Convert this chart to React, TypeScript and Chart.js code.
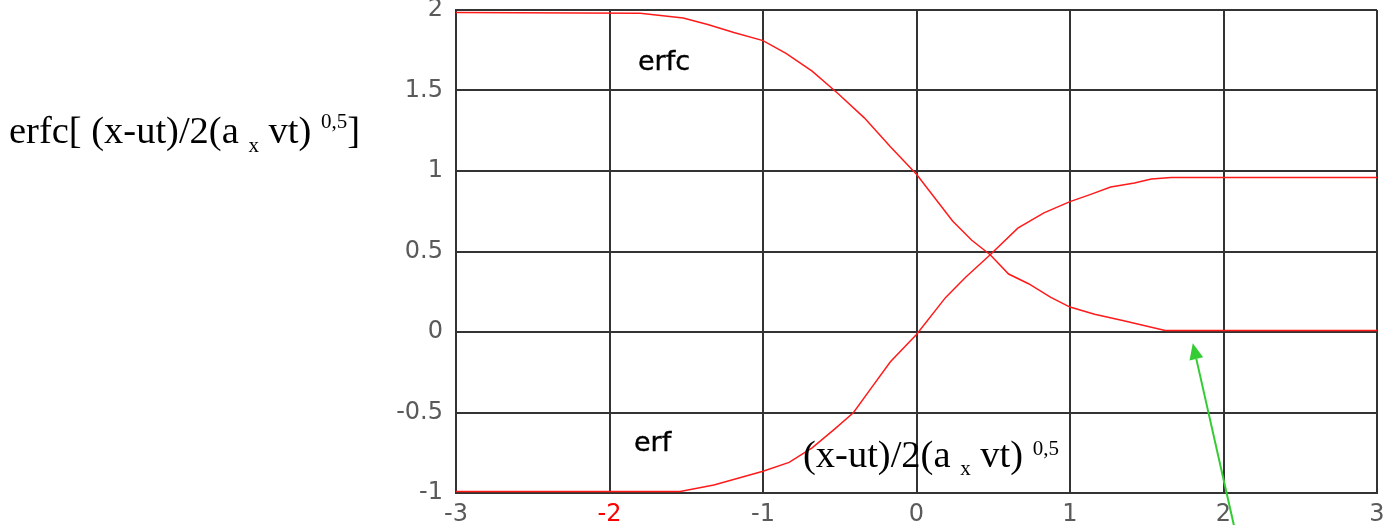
import React, { useEffect, useRef } from "react";
import { Chart, registerables } from "chart.js";

Chart.register(...registerables);

// Abscissa (x-ut)/2(a_x vt)^0.5 and the sampled curve values
const erfcX = [-3, -1.8, -1.52, -1.36, -1.19, -1.0, -0.85, -0.68, -0.51, -0.34, -0.17, 0, 0.235, 0.36, 0.48, 0.6, 0.73, 0.875, 1.0, 1.16, 1.35, 1.62, 3];
const erfcY = [1.985, 1.98, 1.95, 1.91, 1.86, 1.81, 1.73, 1.62, 1.48, 1.33, 1.15, 0.98, 0.69, 0.57, 0.48, 0.36, 0.3, 0.215, 0.155, 0.11, 0.07, 0.01, 0.01];

const erfX = [-3, -1.54, -1.32, -1.0, -0.83, -0.68, -0.53, -0.41, -0.3, -0.17, 0, 0.19, 0.32, 0.48, 0.66, 0.83, 1.0, 1.135, 1.265, 1.42, 1.53, 1.66, 3];
const erfY = [-0.99, -0.99, -0.95, -0.865, -0.81, -0.72, -0.6, -0.5, -0.355, -0.185, -0.015, 0.215, 0.34, 0.48, 0.645, 0.74, 0.81, 0.855, 0.9, 0.925, 0.95, 0.96, 0.96];

const xTickValues = [-3, -2, -1, 0, 1, 2, 3];
const xTickLabels = ["-3", "-2", "-1", "0", "1", "2", "3"];
const yTickValues = [-1, -0.5, 0, 0.5, 1, 1.5, 2];
const yTickLabels = ["-1", "-0.5", "0", "0.5", "1", "1.5", "2"];
const highlightedXTick = -2;

// Green pointer arrow, in data units (tail below the axis, head near y = 0)
const arrowTail = { x: 2.07, y: -1.21 };
const arrowHead = { x: 1.8, y: -0.07 };

const GRID = "#333333";
const TICK_GRAY = "#5a5a5a";
const TICK_FONT = { family: '"DejaVu Sans", Verdana, sans-serif', size: 24 };

const labelFor = (values: number[], labels: string[], v: number) => {
  const i = values.findIndex((t) => Math.abs(t - v) < 1e-9);
  return i >= 0 ? labels[i] : "";
};

const arrowPlugin = {
  id: "greenArrow",
  afterDraw(chart: any) {
    const { ctx, scales } = chart;
    const x0 = scales.x.getPixelForValue(arrowTail.x);
    const y0 = scales.y.getPixelForValue(arrowTail.y);
    const x1 = scales.x.getPixelForValue(arrowHead.x);
    const y1 = scales.y.getPixelForValue(arrowHead.y);
    const ang = Math.atan2(y1 - y0, x1 - x0);
    const headLen = 16;
    const headHalf = 7;
    const bx = x1 - headLen * Math.cos(ang);
    const by = y1 - headLen * Math.sin(ang);
    ctx.save();
    ctx.strokeStyle = "#33cc33";
    ctx.fillStyle = "#33cc33";
    ctx.lineWidth = 2;
    ctx.beginPath();
    ctx.moveTo(x0, y0);
    ctx.lineTo(bx, by);
    ctx.stroke();
    ctx.beginPath();
    ctx.moveTo(x1, y1);
    ctx.lineTo(bx + headHalf * Math.sin(ang), by - headHalf * Math.cos(ang));
    ctx.lineTo(bx - headHalf * Math.sin(ang), by + headHalf * Math.cos(ang));
    ctx.closePath();
    ctx.fill();
    ctx.restore();
  },
};

const serifText: React.CSSProperties = {
  position: "absolute",
  fontFamily: '"Liberation Serif", "Times New Roman", serif',
  fontSize: 38.5,
  lineHeight: "38.5px",
  whiteSpace: "nowrap",
  color: "#000",
};

const sansLabel: React.CSSProperties = {
  position: "absolute",
  fontFamily: '"DejaVu Sans", Verdana, sans-serif',
  fontSize: 27,
  lineHeight: "27px",
  whiteSpace: "nowrap",
  color: "#000",
  WebkitTextStroke: "0.4px #000",
};

const small = (top: number): React.CSSProperties => ({
  fontSize: 21,
  lineHeight: 0,
  position: "relative",
  top,
});

export default function App() {
  const canvasRef = useRef<HTMLCanvasElement | null>(null);

  useEffect(() => {
    if (!canvasRef.current) return;
    const chart = new Chart(canvasRef.current, {
      type: "line",
      data: {
        datasets: [
          {
            label: "erfc",
            data: erfcX.map((x, i) => ({ x, y: erfcY[i] })),
            borderColor: "#ff1a1a",
            borderWidth: 1.5,
            pointRadius: 0,
            tension: 0,
          },
          {
            label: "erf",
            data: erfX.map((x, i) => ({ x, y: erfY[i] })),
            borderColor: "#ff1a1a",
            borderWidth: 1.5,
            pointRadius: 0,
            tension: 0,
          },
        ],
      },
      options: {
        responsive: false,
        animation: false,
        layout: { padding: { left: 0, top: 10, right: 12, bottom: 0 } },
        plugins: { legend: { display: false }, tooltip: { enabled: false } },
        scales: {
          x: {
            type: "linear",
            min: -3,
            max: 3,
            afterBuildTicks: (s: any) => {
              s.ticks = xTickValues.map((value) => ({ value }));
            },
            ticks: {
              color: (c: any) => (c.tick && c.tick.value === highlightedXTick ? "#ff0000" : TICK_GRAY),
              font: TICK_FONT,
              padding: 7,
              maxRotation: 0,
              autoSkip: false,
              callback: (v: any) => labelFor(xTickValues, xTickLabels, Number(v)),
            },
            grid: { color: GRID, lineWidth: 2, drawTicks: false },
            border: { color: GRID, width: 2 },
            afterFit: (s: any) => {
              s.height = 32;
              s.paddingLeft = 0;
              s.paddingRight = 0;
            },
          },
          y: {
            type: "linear",
            min: -1,
            max: 2,
            afterBuildTicks: (s: any) => {
              s.ticks = yTickValues.map((value) => ({ value }));
            },
            ticks: {
              color: TICK_GRAY,
              font: TICK_FONT,
              padding: 13,
              autoSkip: false,
              callback: (v: any) => labelFor(yTickValues, yTickLabels, Number(v)),
            },
            grid: { color: GRID, lineWidth: 2, drawTicks: false },
            border: { color: GRID, width: 2 },
            afterFit: (s: any) => {
              s.width = 456;
              s.paddingTop = 0;
              s.paddingBottom = 0;
            },
          },
        },
      },
      plugins: [arrowPlugin],
    });
    return () => chart.destroy();
  }, []);

  return (
    <div style={{ position: "fixed", left: 0, top: 0, width: 1389, height: 525, background: "#fff", overflow: "hidden" }}>
      <canvas ref={canvasRef} width={1389} height={525} style={{ position: "absolute", left: 0, top: 0, width: 1389, height: 525 }} />
      <div style={{ ...serifText, left: 9, top: 111 }}>
        erfc[ (x-ut)/2(a <span style={small(9)}>x</span> vt) <span style={small(-15)}>0,5</span>]
      </div>
      <div style={{ ...serifText, left: 803, top: 435 }}>
        (x-ut)/2(a <span style={small(8)}>x</span> vt) <span style={small(-12)}>0,5</span>
      </div>
      <div style={{ ...sansLabel, left: 638, top: 47 }}>erfc</div>
      <div style={{ ...sansLabel, left: 634, top: 428 }}>erf</div>
    </div>
  );
}
